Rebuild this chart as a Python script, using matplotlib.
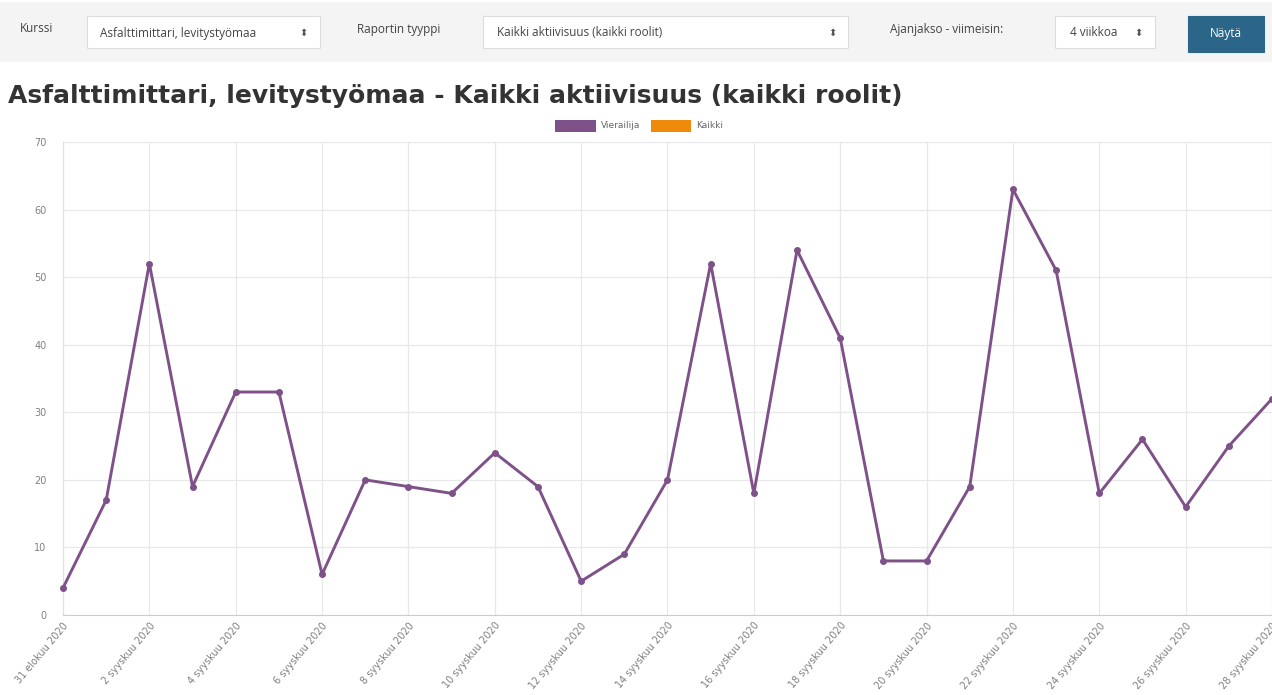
import numpy as np
import matplotlib
matplotlib.use("Agg")
import matplotlib.pyplot as plt
from matplotlib.patches import Rectangle

# --- data ---
day_labels = ["31 elokuu 2020"] + [f"{d} syyskuu 2020" for d in range(1, 29)]
visits = [4, 17, 52, 19, 33, 33, 6, 20, 19, 18, 24, 19, 5, 9, 20,
          52, 18, 54, 41, 8, 8, 19, 63, 51, 18, 26, 16, 25, 32]
y_ticks = [0, 10, 20, 30, 40, 50, 60, 70]
legend_names = ["Vierailija", "Kaikki"]

PURPLE = "#7e5189"
ORANGE = "#f08a0b"
W, H = 1272, 695

fig = plt.figure(figsize=(W / 100, H / 100), dpi=100)
fig.patch.set_facecolor("white")

def fx(x):
    return x / W

def fy(y):
    return 1 - y / H

# --- top form bar ---
fig.patches.append(Rectangle((0, fy(62)), 1, 60 / H, transform=fig.transFigure,
                             facecolor="#f4f4f4", edgecolor="none", zorder=0))

def box(x0, y0, x1, y1, fc="white", ec="#dddddd"):
    fig.patches.append(Rectangle((fx(x0), fy(y1)), (x1 - x0) / W, (y1 - y0) / H,
                                 transform=fig.transFigure, facecolor=fc,
                                 edgecolor=ec, linewidth=0.8, zorder=1))

font = "Open Sans"
lab = dict(fontsize=8.5, color="#444444", family=font, va="center")
fig.text(fx(20), fy(29), "Kurssi", **lab)
box(87, 16, 320, 48)
fig.text(fx(100), fy(33), "Asfalttimittari, levitystyömaa", **lab)
fig.text(fx(303), fy(33), "⬍", fontsize=7, color="#555555", va="center", ha="center")
fig.text(fx(357), fy(29), "Raportin tyyppi", **lab)
box(483, 16, 848, 48)
fig.text(fx(497), fy(33), "Kaikki aktiivisuus (kaikki roolit)", **lab)
fig.text(fx(832), fy(33), "⬍", fontsize=7, color="#555555", va="center", ha="center")
fig.text(fx(890), fy(29), "Ajanjakso - viimeisin:", **lab)
box(1055, 16, 1155, 48)
fig.text(fx(1070), fy(33), "4 viikkoa", **lab)
fig.text(fx(1138), fy(33), "⬍", fontsize=7, color="#555555", va="center", ha="center")
box(1188, 16, 1264, 52, fc="#2b6689", ec="#2b6689")
fig.text(fx(1226), fy(34), "Näytä", fontsize=8.5, color="white", family=font,
         va="center", ha="center")

# --- title ---
fig.text(fx(8), fy(96), "Asfalttimittari, levitystyömaa - Kaikki aktiivisuus (kaikki roolit)",
         fontsize=18, fontweight="bold", color="#333333", family="DejaVu Sans", va="center")

# --- legend ---
fig.patches.append(Rectangle((fx(555), fy(132)), 41 / W, 12 / H, transform=fig.transFigure,
                             facecolor=PURPLE, edgecolor="none"))
fig.text(fx(601), fy(126), legend_names[0], fontsize=6.5, color="#666666", va="center")
fig.patches.append(Rectangle((fx(651), fy(132)), 40 / W, 12 / H, transform=fig.transFigure,
                             facecolor=ORANGE, edgecolor="none"))
fig.text(fx(696), fy(126), legend_names[1], fontsize=6.5, color="#666666", va="center")

# --- chart ---
ax = fig.add_axes([fx(63), fy(615), (W - 63) / W, (615 - 142) / H])
x = np.arange(len(visits))
ax.plot(x, visits, color=PURPLE, linewidth=2.1, marker="o", markersize=4,
        clip_on=False, zorder=3)
ax.set_xlim(0, len(visits) - 1)
ax.set_ylim(0, 70)
ax.set_yticks(y_ticks)
ax.set_yticklabels([str(v) for v in y_ticks])
ax.set_xticks(x[::2])
ax.set_xticklabels(day_labels[::2], rotation=50, ha="right", rotation_mode="anchor")
ax.tick_params(axis="both", length=0, colors="#808080", labelsize=7)
ax.tick_params(axis="y", pad=12)
ax.tick_params(axis="x", pad=4)
ax.grid(True, color="#e8e8e8", linewidth=0.9)
for s in ["top", "right"]:
    ax.spines[s].set_visible(False)
ax.spines["left"].set_color("#e0e0e0")
ax.spines["bottom"].set_color("#cccccc")
ax.set_axisbelow(True)

fig.savefig("out.png", dpi=100)
